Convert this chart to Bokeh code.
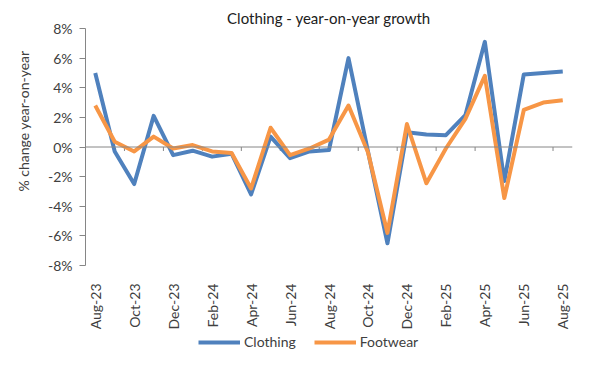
import math
from bokeh.plotting import figure
from bokeh.layouts import column
from bokeh.models import (ColumnDataSource, FixedTicker, Legend, LegendItem, Span,
                          Range1d, Title)
from bokeh.embed import file_html
from bokeh.resources import INLINE

months = ["Aug-23", "Sep-23", "Oct-23", "Nov-23", "Dec-23", "Jan-24", "Feb-24", "Mar-24",
          "Apr-24", "May-24", "Jun-24", "Jul-24", "Aug-24", "Sep-24", "Oct-24", "Nov-24",
          "Dec-24", "Jan-25", "Feb-25", "Mar-25", "Apr-25", "May-25", "Jun-25", "Jul-25",
          "Aug-25"]
clothing = [5.0, -0.3, -2.5, 2.1, -0.55, -0.25, -0.65, -0.45, -3.2, 0.7, -0.75, -0.3,
            -0.2, 6.0, -0.3, -6.5, 1.0, 0.85, 0.8, 2.15, 7.1, -2.3, 4.9, 5.0, 5.1]
footwear = [2.8, 0.35, -0.3, 0.7, -0.1, 0.13, -0.3, -0.4, -2.8, 1.3, -0.55, -0.1,
            0.5, 2.8, -0.35, -5.8, 1.55, -2.45, -0.1, 1.9, 4.8, -3.45, 2.5, 3.0, 3.15]
y_ticks = [-8, -6, -4, -2, 0, 2, 4, 6, 8]

FONT = "Lato"
TXT = "#404040"
BLUE = "#4f81bd"
ORANGE = "#f79646"
FS = "14px"

idx = list(range(len(months)))
src = ColumnDataSource(dict(x=idx, clothing=clothing, footwear=footwear))

p = figure(width=600, height=332, output_backend="svg", toolbar_location=None,
           x_range=Range1d(-0.5, len(months) - 0.5), y_range=Range1d(-8, 8),
           min_border_left=82, min_border_right=28, min_border_top=28,
           min_border_bottom=66)
p.outline_line_color = None
p.xgrid.visible = False
p.ygrid.visible = False

p.title.text = "Clothing - year-on-year growth"
p.title.align = "center"
p.title.text_font = FONT
p.title.text_font_size = "15px"
p.title.text_font_style = "normal"
p.title.text_color = "#202020"
p.title.standoff = 4

# zero line with category-boundary ticks
p.add_layout(Span(location=0, dimension="width", line_color="#868686", line_width=1))
bounds = [i + 0.5 for i in range(1, len(months) - 1, 2)]
p.segment(x0=bounds, x1=bounds, y0=[0] * len(bounds), y1=[-0.27] * len(bounds),
          line_color="#868686", line_width=1)

p.line("x", "clothing", source=src, line_color=BLUE, line_width=4, line_join="round")
p.line("x", "footwear", source=src, line_color=ORANGE, line_width=4, line_join="round")

# y axis
p.yaxis.ticker = FixedTicker(ticks=y_ticks)
p.yaxis.major_label_overrides = {t: f"{t}%" for t in y_ticks}
p.yaxis.major_label_text_font = FONT
p.yaxis.major_label_text_font_size = FS
p.yaxis.major_label_text_color = TXT
p.yaxis.axis_line_color = "#868686"
p.yaxis.major_tick_line_color = "#868686"
p.yaxis.major_tick_out = 6
p.yaxis.major_tick_in = 0
p.yaxis.minor_tick_line_color = None
p.yaxis.major_label_standoff = 7

ytitle = Title(text="% change year-on-year", align="left", offset=74,
               text_font=FONT, text_font_size=FS, text_font_style="normal",
               text_color=TXT, standoff=25)
p.add_layout(ytitle, "left")

# x axis
p.xaxis.ticker = FixedTicker(ticks=idx[::2])
p.xaxis.major_label_overrides = {i: months[i] for i in idx}
p.xaxis.major_label_orientation = math.pi / 2
p.xaxis.major_label_text_font = FONT
p.xaxis.major_label_text_font_size = FS
p.xaxis.major_label_text_color = TXT
p.xaxis.axis_line_color = None
p.xaxis.major_tick_line_color = None
p.xaxis.minor_tick_line_color = None
p.xaxis.major_label_standoff = 12

# legend strip
lf = figure(width=600, height=43, output_backend="svg", toolbar_location=None,
            x_range=Range1d(0, 1), y_range=Range1d(0, 1),
            min_border=0, min_border_left=0, min_border_right=0,
            min_border_top=0, min_border_bottom=0)
lf.axis.visible = False
lf.grid.visible = False
lf.outline_line_color = None
l1 = lf.line("x", "clothing", source=src, line_color=BLUE, line_width=4, visible=False)
l2 = lf.line("x", "footwear", source=src, line_color=ORANGE, line_width=4, visible=False)

legend = Legend(items=[LegendItem(label="Clothing", renderers=[l1]),
                       LegendItem(label="Footwear", renderers=[l2])],
                orientation="horizontal", location=(113, 25))
legend.label_text_font = FONT
legend.label_text_font_size = FS
legend.label_text_color = TXT
legend.glyph_width = 42
legend.glyph_height = 14
legend.label_height = 14
legend.label_standoff = 4
legend.spacing = 18
legend.border_line_color = None
legend.background_fill_alpha = 0
legend.inactive_fill_alpha = 0
legend.padding = 0
legend.margin = 0
lf.add_layout(legend)

layout = column(p, lf, spacing=0)
open("out.html", "w").write(file_html(layout, INLINE))
